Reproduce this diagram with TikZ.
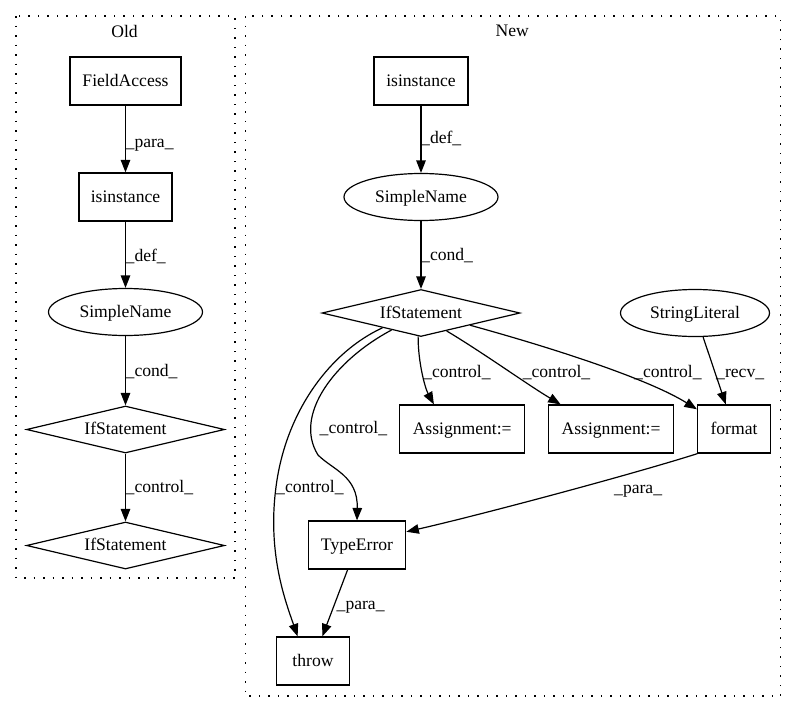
\documentclass[tikz,border=0pt]{standalone}
\usepackage{fontspec}
\setmainfont{Liberation Serif}
\usetikzlibrary{shapes.geometric,arrows.meta}
\begin{document}
\begin{tikzpicture}[x=1pt,y=-1pt,
  every node/.style={font=\fontsize{17.6}{20}\selectfont, inner sep=0pt},
  shp/.style={draw, line width=1.2pt, text height=13pt, text depth=3pt},
  box/.style={shp, rectangle, minimum height=48pt},
  ell/.style={shp, ellipse, minimum height=47pt},
  dia/.style={shp, diamond, aspect=4.2, minimum width=198pt, minimum height=47pt},
  edge/.style={draw, line width=1.2pt, -{Triangle[length=12.5pt,width=9.5pt]}},
  lab/.style={anchor=base west},
  cluster/.style={draw, line width=1.3pt, dash pattern=on 1.5pt off 8pt}]
\useasboundingbox (0,0) rectangle (797,712);

% clusters
\draw[cluster] (16,16) rectangle (235,578);
\node (told) at (124.5,31) {Old};
\draw[cluster] (245.3,16) rectangle (780.8,696);
\node (tnew) at (512.3,31) {New};

% Old nodes
\node[box, minimum width=111pt] (ofa) at (125.5,81) {FieldAccess};
\node[box, minimum width=93pt] (oin) at (125.5,197) {isinstance};
\node[ell, minimum width=154pt] (osn) at (125.5,312) {SimpleName};
\node[dia] (oif1) at (125.5,429.5) {IfStatement};
\node[dia] (oif2) at (125.5,545.5) {IfStatement};

% New nodes
\node[box, minimum width=94pt] (nin) at (421,81) {isinstance};
\node[ell, minimum width=154pt] (nsn) at (421,197) {SimpleName};
\node[dia] (nif) at (421,313) {IfStatement};
\node[ell, minimum width=149pt] (nsl) at (695,313) {StringLiteral};
\node[box, minimum width=125pt] (na1) at (462.2,429) {Assignment:=};
\node[box, minimum width=125pt] (na2) at (611.1,429) {Assignment:=};
\node[box, minimum width=73pt] (nfm) at (734,429) {format};
\node[box, minimum width=97.5pt] (nte) at (357,545) {TypeError};
\node[box, minimum width=72.5pt] (nth) at (313,661) {throw};

% Old edges
\draw[edge] (ofa) -- (oin);
\draw[edge] (oin) -- (osn);
\draw[edge] (osn) -- (oif1);
\draw[edge] (oif1) -- (oif2);
\node[lab] (l1) at (125.5,147.5) {\_para\_};
\node[lab] (l2) at (125.5,261.5) {\_def\_};
\node[lab] (l3) at (125.5,376) {\_cond\_};
\node[lab] (l4) at (125.5,492) {\_control\_};

% New edges
\draw[edge] (nin) -- (nsn);
\draw[edge] (nsn) -- (nif);
\draw[edge] (nif.-97) .. controls (418,362) and (425,388) .. (na1.139);
\draw[edge] (nif.-35) .. controls (482,352) and (528,385) .. (na2.154);
\draw[edge] (nif.-14) .. controls (560,350) and (650,380) .. (nfm.152);
\draw[edge] (nsl) -- (nfm);
\draw[edge] (nif.-150) .. controls (335,360) and (293,415) .. (318,455)
   .. controls (333,470) and (358,476) .. (nte.north);
\draw[edge] (nif.-159) .. controls (330,352) and (288,410) .. (277,480)
   .. controls (266,550) and (285,600) .. (nth.122);
\draw[edge] (nfm.-146) .. controls (630,475) and (480,515) .. (nte.15);
\draw[edge] (nte) -- (nth);

\node[lab] (l5) at (421,143.5) {\_def\_};
\node[lab] (l6) at (421,260) {\_cond\_};
\node[lab] (l7) at (423,377) {\_control\_};
\node[lab] (l8) at (522.6,377) {\_control\_};
\node[lab] (l9) at (634,377) {\_control\_};
\node[lab] (l10) at (716,377) {\_recv\_};
\node[lab] (l11) at (319.5,433.5) {\_control\_};
\node[lab] (l12) at (276,492) {\_control\_};
\node[lab] (l13) at (614,493) {\_para\_};
\node[lab] (l14) at (336.5,609) {\_para\_};
\end{tikzpicture}
\end{document}
